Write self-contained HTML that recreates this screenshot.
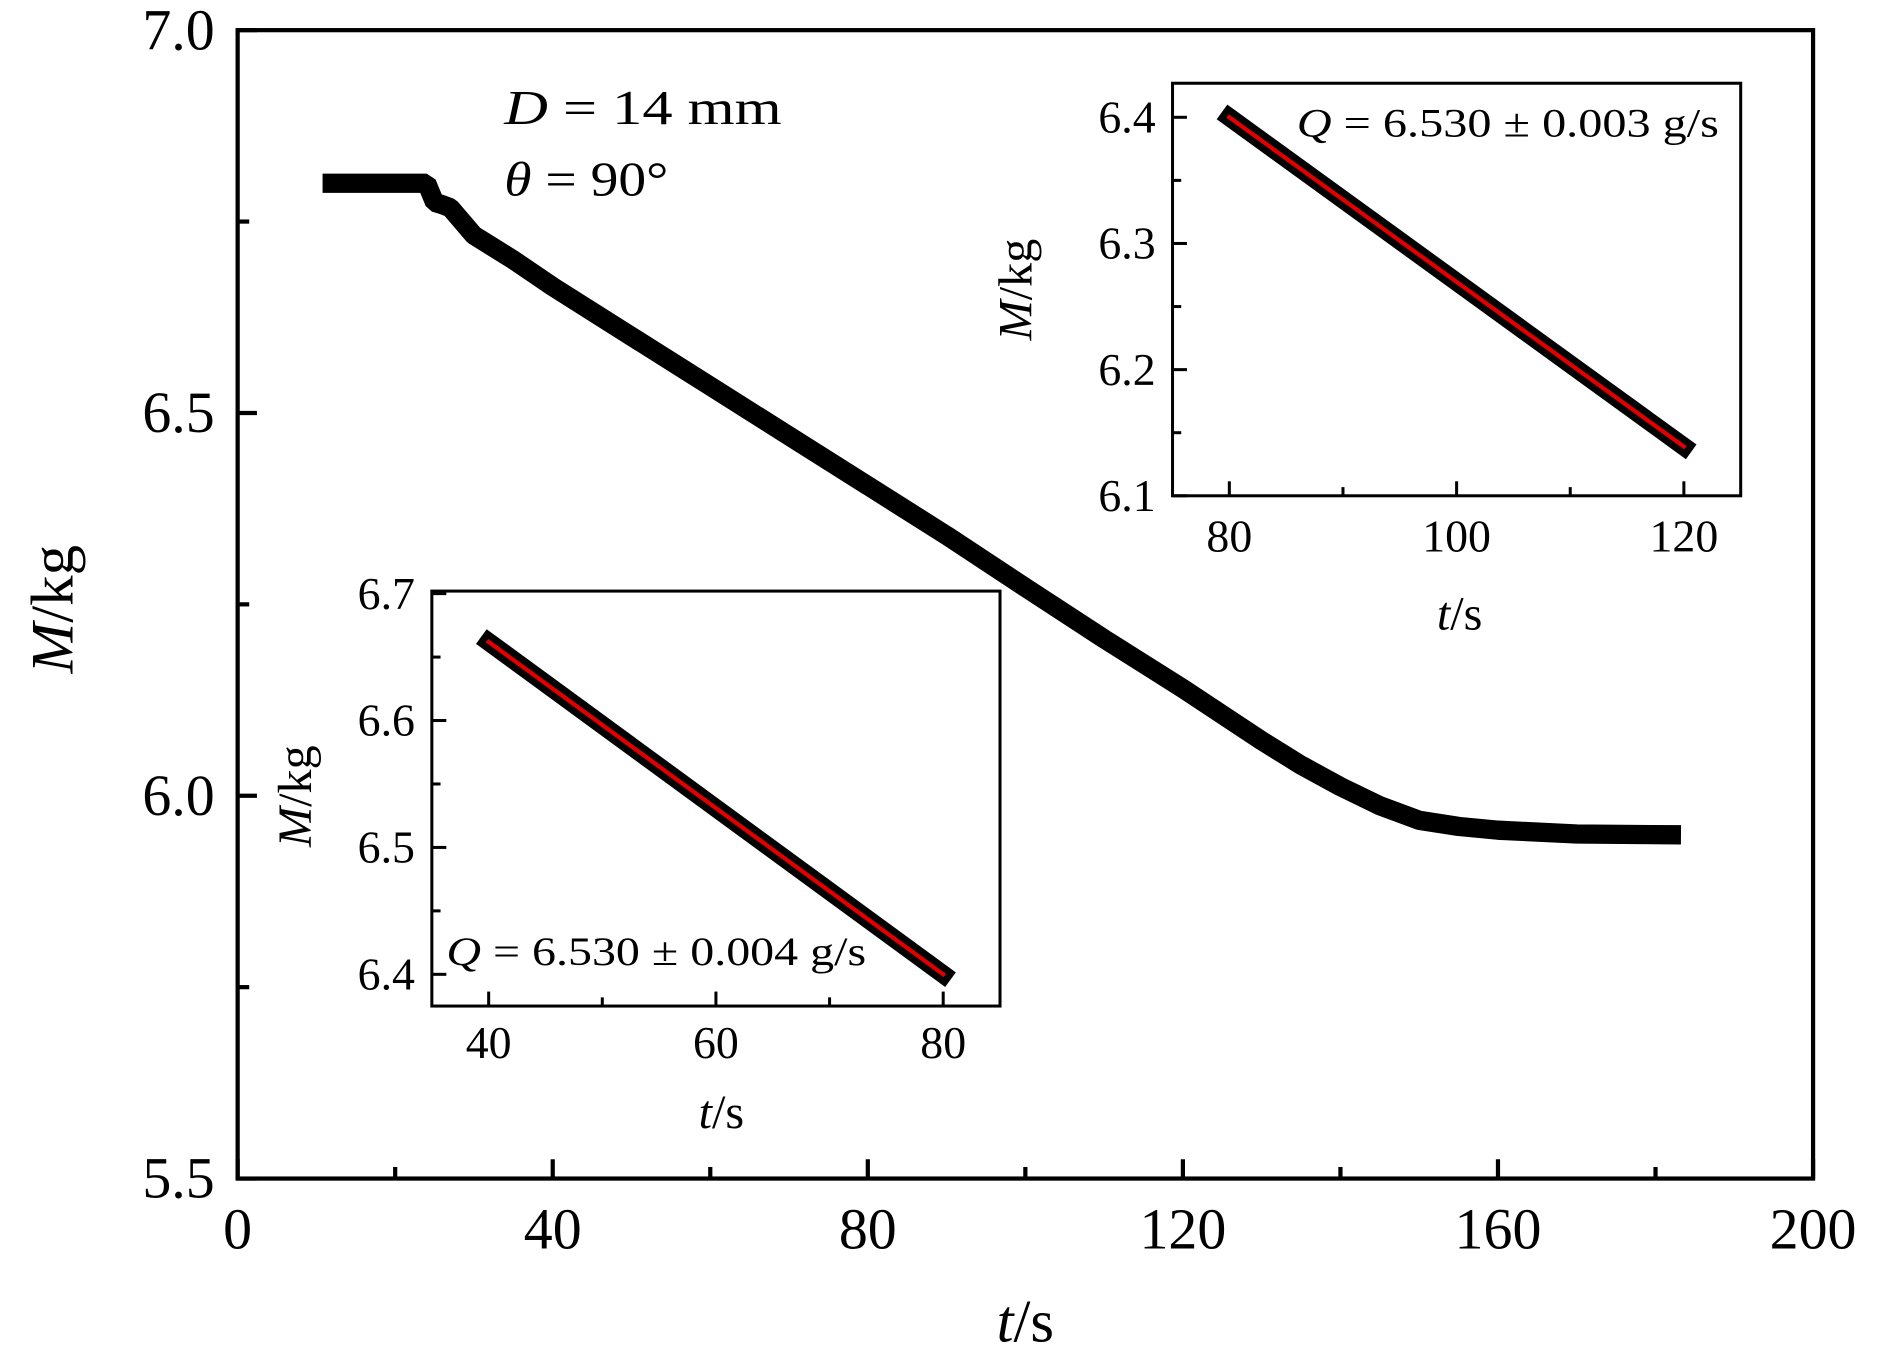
<!DOCTYPE html>
<html><head><meta charset="utf-8"><style>
html,body{margin:0;padding:0;background:#fff;}
svg{display:block;font-family:"Liberation Serif",serif;}
</style></head><body>
<svg id="chart" width="1890" height="1371" viewBox="0 0 1890 1371" xmlns="http://www.w3.org/2000/svg">
<g id="root" transform="scale(1.2063)"></g>
</svg>
<script>
// Main series data
const mainT = [12, 24, 25, 26, 27, 30, 35, 40, 50, 60, 70, 80, 90, 100, 110, 120, 130, 135, 140, 145, 150, 155, 160, 170, 182];
const mainM = [6.80, 6.80, 6.775, 6.772, 6.768, 6.732, 6.70, 6.665, 6.60, 6.535, 6.47, 6.405, 6.34, 6.272, 6.205, 6.14, 6.072, 6.04, 6.012, 5.987, 5.968, 5.96, 5.955, 5.95, 5.949];
const mainXTicks = [0, 40, 80, 120, 160, 200];
const mainYTicks = [5.5, 6.0, 6.5, 7.0];
const mainYLabels = ["5.5", "6.0", "6.5", "7.0"];
// Inset 1 (80-120 s)
const in1T = [80, 120];
const in1M = [6.40, 6.139];
const in1Fit = [6.40, 6.139];
const in1XTicks = [80, 100, 120];
const in1YTicks = [6.1, 6.2, 6.3, 6.4];
// Inset 2 (40-80 s)
const in2T = [40, 80];
const in2M = [6.662, 6.40];
const in2Fit = [6.662, 6.40];
const in2XTicks = [40, 60, 80];
const in2YTicks = [6.4, 6.5, 6.6, 6.7];

const NS = "http://www.w3.org/2000/svg";
const root = document.getElementById('root');
function mk(tag, attrs, parent, text) {
  const e = document.createElementNS(NS, tag);
  for (const k in attrs) e.setAttribute(k, attrs[k]);
  if (text !== undefined) e.textContent = text;
  (parent || root).appendChild(e);
  return e;
}
function axes(cfg) {
  const sx = v => cfg.L + (v - cfg.x0) / (cfg.x1 - cfg.x0) * (cfg.R - cfg.L);
  const sy = v => cfg.B - (v - cfg.y0) / (cfg.y1 - cfg.y0) * (cfg.B - cfg.T);
  const g = mk('g', {});
  
  
  const fr = mk('rect', {x: cfg.L, y: cfg.T, width: cfg.R - cfg.L, height: cfg.B - cfg.T, fill: '#fff', stroke: '#000', 'stroke-width': cfg.sw}, g);
  
  
  cfg.xTicks.forEach((v, i) => {
    const x = sx(v);
    const tk = mk('line', {x1: x, x2: x, y1: cfg.B, y2: cfg.B - cfg.tl, stroke: '#000', 'stroke-width': cfg.sw}, g);
    
    
    if (i < cfg.xTicks.length - 1) {
      const xm = sx((v + cfg.xTicks[i + 1]) / 2);
      const mt = mk('line', {x1: xm, x2: xm, y1: cfg.B, y2: cfg.B - cfg.tl * 0.6, stroke: '#000', 'stroke-width': cfg.sw}, g);
      
      
    }
    const lb = mk('text', {x: x, y: cfg.xLabY, 'text-anchor': 'middle', 'font-size': cfg.fs}, g, String(v));
    
    
  });
  cfg.yTicks.forEach((v, i) => {
    const y = sy(v);
    const tk = mk('line', {x1: cfg.L, x2: cfg.L + cfg.tl, y1: y, y2: y, stroke: '#000', 'stroke-width': cfg.sw}, g);
    
    
    if (i < cfg.yTicks.length - 1) {
      const ym = sy((v + cfg.yTicks[i + 1]) / 2);
      const mt = mk('line', {x1: cfg.L, x2: cfg.L + cfg.tl * 0.6, y1: ym, y2: ym, stroke: '#000', 'stroke-width': cfg.sw}, g);
      
      
    }
    const lb = mk('text', {x: cfg.yLabX, y: y + cfg.fs * 0.33, 'text-anchor': 'end', 'font-size': cfg.fs}, g, cfg.yLabels ? cfg.yLabels[i] : v.toFixed(1));
    
    
  });
  const xt = mk('text', {x: cfg.xtX, y: cfg.xtY, 'text-anchor': 'middle', 'font-size': cfg.fs * 1.05}, g);
  
  
  mk('tspan', {'font-style': 'italic'}, xt, 't');
  mk('tspan', {}, xt, '/s');
  const yt = mk('text', {x: cfg.ytX, y: cfg.ytY, 'text-anchor': 'middle', 'font-size': cfg.fs * 1.05, transform: `rotate(-90 ${cfg.ytX} ${cfg.ytY})`}, g);
  
  
  mk('tspan', {'font-style': 'italic'}, yt, 'M');
  mk('tspan', {}, yt, '/kg');
  return {sx, sy, g};
}
function series(ax, ts, ms, w, color, name) {
  const d = ts.map((t, i) => (i ? 'L' : 'M') + ax.sx(t).toFixed(1) + ' ' + ax.sy(ms[i]).toFixed(1)).join(' ');
  const p = mk('path', {d: d, fill: 'none', stroke: color, 'stroke-width': w, 'stroke-linejoin': 'bevel', 'stroke-linecap': 'square'}, ax.g);
  
  
}

const main = axes({name: 'main-plot', L: 197, R: 1503, T: 25, B: 977, x0: 0, x1: 200, y0: 5.5, y1: 7.0, sw: 3.5, tl: 16,
  xTicks: mainXTicks, yTicks: mainYTicks, yLabels: mainYLabels, fs: 48, xLabY: 1035, yLabX: 178, xtX: 850, xtY: 1112, ytX: 60, ytY: 505});
series(main, mainT, mainM, 16, '#000', 'mass-series');
const t1 = mk('text', {x: 418, y: 103, 'font-size': 40, textLength: 230, lengthAdjust: 'spacingAndGlyphs'}, main.g);


mk('tspan', {'font-style': 'italic'}, t1, 'D');
mk('tspan', {}, t1, ' = 14 mm');
const t2 = mk('text', {x: 418, y: 162, 'font-size': 40, textLength: 136, lengthAdjust: 'spacingAndGlyphs'}, main.g);


mk('tspan', {'font-style': 'italic'}, t2, 'θ');
mk('tspan', {}, t2, ' = 90°');

const in1 = axes({name: 'inset-80-120', L: 972, R: 1443, T: 69, B: 411, x0: 75, x1: 125, y0: 6.1, y1: 6.427, sw: 2.5, tl: 12,
  xTicks: in1XTicks, yTicks: in1YTicks, fs: 38, xLabY: 457, yLabX: 958, xtX: 1210, xtY: 522, ytX: 855, ytY: 240});
series(in1, in1T, in1M, 15, '#000', 'inset1-data');
series(in1, in1T, in1Fit, 3.5, '#e00000', 'inset1-fit-line');
const q1 = mk('text', {x: 1075, y: 113, 'font-size': 33, textLength: 350, lengthAdjust: 'spacingAndGlyphs'}, in1.g);


mk('tspan', {'font-style': 'italic'}, q1, 'Q');
mk('tspan', {}, q1, ' = 6.530 ± 0.003 g/s');

const in2 = axes({name: 'inset-40-80', L: 358, R: 829, T: 490, B: 834, x0: 35, x1: 85, y0: 6.375, y1: 6.702, sw: 2.5, tl: 12,
  xTicks: in2XTicks, yTicks: in2YTicks, fs: 38, xLabY: 877, yLabX: 344, xtX: 598, xtY: 935, ytX: 258, ytY: 660});
series(in2, in2T, in2M, 15, '#000', 'inset2-data');
series(in2, in2T, in2Fit, 3.5, '#e00000', 'inset2-fit-line');
const q2 = mk('text', {x: 370, y: 800, 'font-size': 33, textLength: 348, lengthAdjust: 'spacingAndGlyphs'}, in2.g);


mk('tspan', {'font-style': 'italic'}, q2, 'Q');
mk('tspan', {}, q2, ' = 6.530 ± 0.004 g/s');
</script>
</body></html>
